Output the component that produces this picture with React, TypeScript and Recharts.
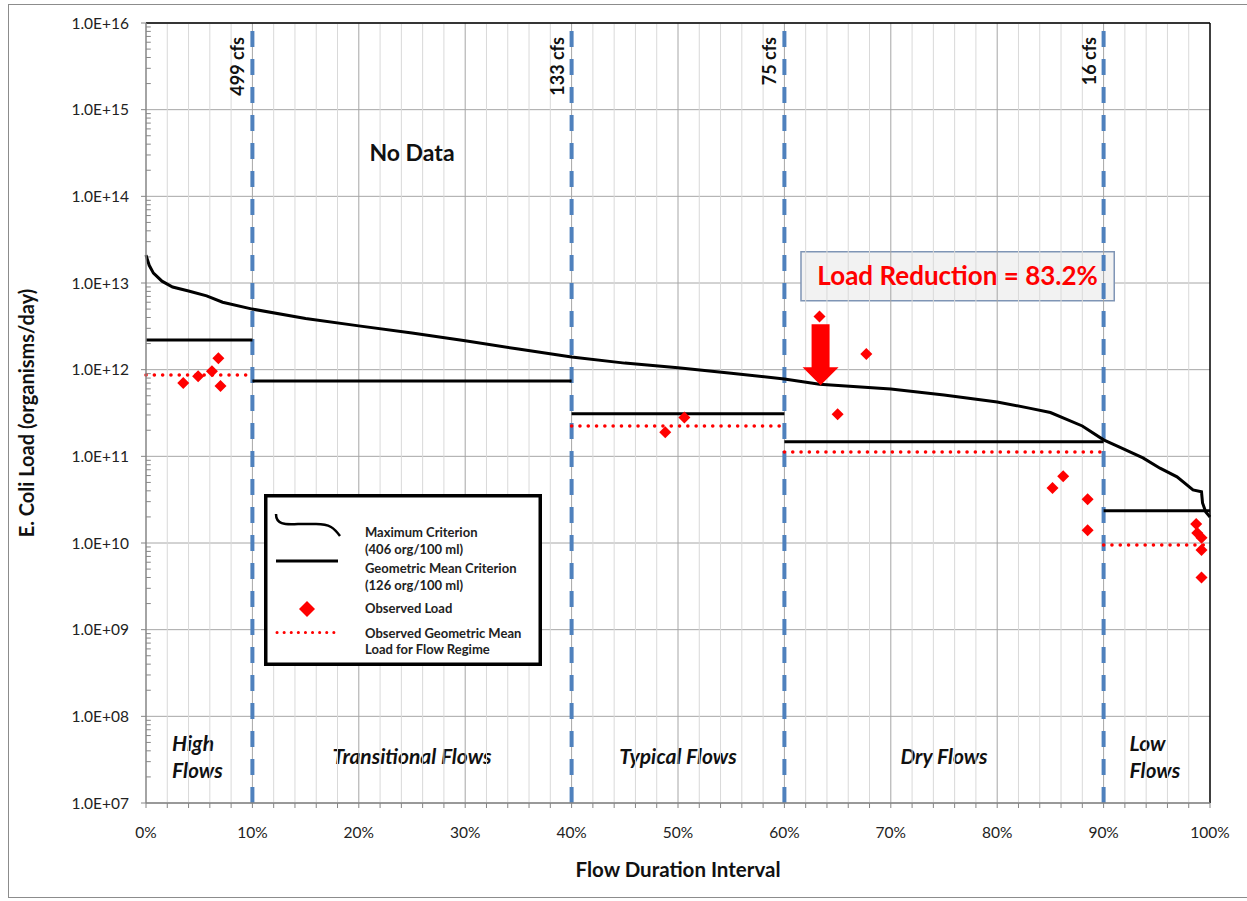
import React from 'react';
import {
  ComposedChart,
  Line,
  Scatter,
  XAxis,
  YAxis,
  CartesianGrid,
  ReferenceLine,
  ReferenceArea,
  ReferenceDot,
  Legend,
  Label,
} from 'recharts';

const FONT = 'Lato, "Noto Sans", sans-serif';

// maximum criterion load duration curve (flow duration %, organisms/day)
const maxCriterionX = [0, 0.3, 0.7, 1.5, 2.5, 4, 5.7, 7.2, 10, 15, 20, 25, 30, 35, 40, 45, 50, 55, 60, 63.3, 70, 75, 80, 83, 85, 88, 90, 91.5, 93.7, 95.3, 96.9, 98.4, 99.2, 99.3, 99.6, 100];
const maxCriterionY = [2.1e13, 1.6e13, 1.3e13, 1.05e13, 9.0e12, 8.1e12, 7.1e12, 6.0e12, 5.0e12, 3.9e12, 3.2e12, 2.65e12, 2.15e12, 1.73e12, 1.4e12, 1.19e12, 1.05e12, 9.1e11, 7.8e11, 6.8e11, 6.0e11, 5.1e11, 4.24e11, 3.6e11, 3.2e11, 2.24e11, 1.55e11, 1.28e11, 9.6e10, 7.3e10, 5.8e10, 4.1e10, 3.9e10, 2.9e10, 2.28e10, 2.0e10];

// flow regimes
const regimeStart = [0, 10, 40, 60, 90];
const regimeEnd = [10, 40, 60, 90, 100];
const regimeNames = [['High', 'Flows'], ['Transitional Flows'], ['Typical Flows'], ['Dry Flows'], ['Low', 'Flows']];
const geoMeanCriterion = [2.2e12, 7.4e11, 3.1e11, 1.47e11, 2.35e10];
const observedGeoMean = [8.7e11, null, 2.24e11, 1.12e11, 9.5e9];

const boundaryX = [10, 40, 60, 90];
const boundaryLabels = ['499 cfs', '133 cfs', '75 cfs', '16 cfs'];

// observed loads
const observedX = [3.5, 4.9, 6.2, 6.8, 7.0, 48.8, 50.6, 63.3, 65.0, 67.7, 85.2, 86.2, 88.5, 88.5, 98.7, 98.8, 99.2, 99.2, 99.2];
const observedY = [7.0e11, 8.4e11, 9.6e11, 1.35e12, 6.5e11, 1.9e11, 2.8e11, 4.1e12, 3.06e11, 1.52e12, 4.3e10, 5.9e10, 3.2e10, 1.4e10, 1.66e10, 1.3e10, 1.15e10, 8.3e9, 4.0e9];

const xMajorTicks = [0, 10, 20, 30, 40, 50, 60, 70, 80, 90, 100];
const xMinorTicks = [2, 4, 6, 8, 12, 14, 16, 18, 22, 24, 26, 28, 32, 34, 36, 38, 42, 44, 46, 48, 52, 54, 56, 58, 62, 64, 66, 68, 72, 74, 76, 78, 82, 84, 86, 88, 92, 94, 96, 98];
const yTicks = [1e7, 1e8, 1e9, 1e10, 1e11, 1e12, 1e13, 1e14, 1e15, 1e16];
const yMinorTicks = yTicks.slice(0, -1).flatMap((d) => [2, 3, 4, 5, 6, 7, 8, 9].map((m) => m * d));

const reductionText = 'Load Reduction = 83.2%';

const maxData = maxCriterionX.map((x, i) => ({ x, y: maxCriterionY[i] }));
const observedData = observedX.map((x, i) => ({ x, y: observedY[i] }));

const fmtY = (v: number) => `1.0E+${String(Math.round(Math.log10(v))).padStart(2, '0')}`;
const fmtX = (v: number) => (v % 10 === 0 ? `${v}%` : '');

const Diamond = (props: any) => {
  const { cx, cy } = props;
  const r = 6;
  return <polygon points={`${cx},${cy - r} ${cx + r},${cy} ${cx},${cy + r} ${cx - r},${cy}`} fill="#FF0000" />;
};

const Arrow = (props: any) => {
  const { cx, cy } = props;
  return (
    <polygon
      points={`${cx - 9},${cy - 61} ${cx + 9},${cy - 61} ${cx + 9},${cy - 18} ${cx + 18},${cy - 18} ${cx},${cy} ${cx - 18},${cy - 18} ${cx - 9},${cy - 18}`}
      fill="#FF0000"
    />
  );
};

const boundaryLabel = (text: string) => (props: any) => {
  const { x, y } = props.viewBox;
  return (
    <text transform={`translate(${x - 8},${y + 14}) rotate(-90)`} textAnchor="end" fontSize={18} fontWeight={700} fill="#111">
      {text}
    </text>
  );
};

const regimeLabel = (lines: string[]) => (props: any) => {
  const { x, y, width, height } = props.viewBox;
  const twoLines = lines.length > 1;
  const tx = twoLines ? x + 26 : x + width / 2;
  const y0 = y + height / 2 - 3 - ((lines.length - 1) * 27) / 2;
  return (
    <text textAnchor={twoLines ? 'start' : 'middle'} fontSize={21} fontWeight={700} fontStyle="italic" fill="#111">
      {lines.map((l, i) => (
        <tspan key={i} x={tx} y={y0 + i * 27} dy="0.35em">
          {l}
        </tspan>
      ))}
    </text>
  );
};

const yTitle = (props: any) => {
  const { x, y, height } = props.viewBox;
  return (
    <text transform={`translate(${x - 52},${y + height / 2}) rotate(-90)`} textAnchor="middle" fontSize={20} fontWeight={700} fill="#111">
      E. Coli Load (organisms/day)
    </text>
  );
};

const xTitle = (props: any) => {
  const { x, y, width } = props.viewBox;
  return (
    <text x={x + width / 2} y={y + 74} textAnchor="middle" fontSize={20.5} fontWeight={700} fill="#111">
      Flow Duration Interval
    </text>
  );
};

const LegendBox = () => (
  <svg width={278} height={172} style={{ display: 'block', fontFamily: FONT }}>
    <rect x={1.75} y={1.75} width={274.5} height={168.5} fill="#fff" stroke="#000" strokeWidth={3.5} />
    <path d="M12 20 C12 30 20 31 34 30 L52 30 C66 30 70 34 76 42" fill="none" stroke="#000" strokeWidth={2.5} />
    <line x1={12} y1={67} x2={74} y2={67} stroke="#000" strokeWidth={3} />
    <polygon points="43,107 51,115 43,123 35,115" fill="#FF0000" />
    <line x1={13} y1={138.5} x2={74} y2={138.5} stroke="#FF0000" strokeWidth={3} strokeDasharray="0.1 7" strokeLinecap="round" />
    <g fontSize={13} fontWeight={700} fill="#222">
      <text x={101} y={43}>Maximum Criterion</text>
      <text x={101} y={60}>(406 org/100 ml)</text>
      <text x={101} y={79}>Geometric Mean Criterion</text>
      <text x={101} y={96}>(126 org/100 ml)</text>
      <text x={101} y={119}>Observed Load</text>
      <text x={101} y={144}>Observed Geometric Mean</text>
      <text x={101} y={160}>Load for Flow Regime</text>
    </g>
  </svg>
);

export default function App() {
  return (
    <div style={{ position: 'absolute', left: 8, top: 4, width: 1239, height: 894, fontFamily: FONT }}>
      <div style={{ position: 'absolute', left: 0, top: 0, width: 1260, height: 894, border: '1px solid #8c8c8c', boxSizing: 'border-box' }} />
      <ComposedChart width={1239} height={894} margin={{ top: 19, right: 37, left: 78, bottom: 55 }}>
        <CartesianGrid vertical={false} stroke="#a6a6a6" />
        {xMinorTicks.map((v) => (
          <ReferenceLine key={`mn${v}`} x={v} stroke="#d9d9d9" strokeWidth={1} />
        ))}
        {xMajorTicks.slice(1, -1).map((v) => (
          <ReferenceLine key={`mj${v}`} x={v} stroke="#a6a6a6" strokeWidth={1} />
        ))}
        <ReferenceLine y={1e16} stroke="#000" strokeWidth={1.5} />
        <ReferenceLine x={100} stroke="#000" strokeWidth={1.5} />
        {yMinorTicks.map((v) => (
          <ReferenceLine key={`ym${v}`} segment={[{ x: 0, y: v }, { x: 0.45, y: v }]} stroke="#868686" strokeWidth={1} />
        ))}
        <XAxis
          type="number"
          dataKey="x"
          domain={[0, 100]}
          ticks={[...xMajorTicks, ...xMinorTicks].sort((a, b) => a - b)}
          tickFormatter={fmtX}
          interval={0}
          height={40}
          tickSize={5}
          tickMargin={19}
          axisLine={{ stroke: '#868686', strokeWidth: 1.5 }}
          tickLine={{ stroke: '#868686' }}
          tick={{ fontSize: 15.5, fill: '#222' }}
        >
          <Label content={xTitle} />
        </XAxis>
        <YAxis
          type="number"
          dataKey="y"
          scale="log"
          domain={[1e7, 1e16]}
          allowDataOverflow
          ticks={yTicks}
          tickFormatter={fmtY}
          interval={0}
          width={60}
          tickSize={5}
          tickMargin={12}
          axisLine={{ stroke: '#868686', strokeWidth: 1.5 }}
          tickLine={{ stroke: '#868686' }}
          tick={{ fontSize: 15.5, fill: '#222' }}
        >
          <Label content={yTitle} />
        </YAxis>

        {boundaryX.map((v, i) => (
          <ReferenceLine key={`b${v}`} x={v} stroke="#4f81bd" strokeWidth={4} strokeDasharray="16 12" label={boundaryLabel(boundaryLabels[i])} />
        ))}

        {regimeNames.map((n, i) => (
          <ReferenceArea key={`r${i}`} x1={regimeStart[i]} x2={regimeEnd[i]} y1={1e7} y2={1e8} fill="none" stroke="none" label={regimeLabel(n)} />
        ))}
        <ReferenceArea x1={10} x2={40} y1={1e14} y2={1e15} fill="none" stroke="none" label={{ value: 'No Data', position: 'center', fontSize: 23, fontWeight: 700, fill: '#111' }} />

        <Line data={maxData} dataKey="y" type="linear" stroke="#000" strokeWidth={3} dot={false} isAnimationActive={false} />
        {geoMeanCriterion.map((v, i) => (
          <Line
            key={`g${i}`}
            data={[{ x: regimeStart[i], y: v }, { x: regimeEnd[i], y: v }]}
            dataKey="y"
            type="linear"
            stroke="#000"
            strokeWidth={3}
            dot={false}
            isAnimationActive={false}
          />
        ))}
        {observedGeoMean.map((v, i) =>
          v == null ? null : (
            <Line
              key={`o${i}`}
              data={[{ x: regimeStart[i], y: v }, { x: regimeEnd[i], y: v }]}
              dataKey="y"
              type="linear"
              stroke="#FF0000"
              strokeWidth={3.5}
              strokeDasharray="0.1 8.2"
              strokeLinecap="round"
              dot={false}
              isAnimationActive={false}
            />
          )
        )}
        <Scatter data={observedData} dataKey="y" shape={Diamond} isAnimationActive={false} />

        <ReferenceArea
          x1={61.56}
          x2={91.0}
          y1={6.25e12}
          y2={2.3e13}
          fill="#f2f2f2"
          fillOpacity={1}
          stroke="#7f95b5"
          strokeWidth={1.5}
          label={{ value: reductionText, position: 'center', fontSize: 26, fontWeight: 700, fill: '#FF0000' }}
        />
        <ReferenceDot x={63.4} y={6.6e11} r={0} shape={Arrow} />

        <Legend
          content={() => <LegendBox />}
          layout="vertical"
          align="center"
          verticalAlign="middle"
          wrapperStyle={{ left: 256, top: 490, width: 278, height: 172 }}
        />
      </ComposedChart>
    </div>
  );
}
